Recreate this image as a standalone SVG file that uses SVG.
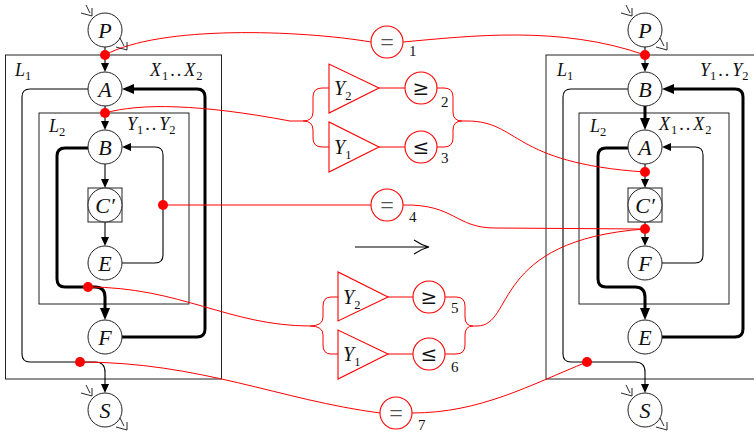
<svg xmlns="http://www.w3.org/2000/svg" xmlns:xlink="http://www.w3.org/1999/xlink" width="754" height="436" viewBox="0 0 754 436">
<style>
.box{fill:none;stroke:#222;stroke-width:1}
.nd{fill:#fff;stroke:#222;stroke-width:1}
.nt{font-family:"Liberation Serif",serif;font-style:italic;font-size:22px;text-anchor:middle;fill:#111}
.lb{font-family:"Liberation Serif",serif;font-size:18px;fill:#111}
.it{font-style:italic}
.sub{font-size:12.5px;font-style:normal}
.e{fill:none;stroke:#000;stroke-width:1.1}
.et{fill:none;stroke:#000;stroke-width:3;stroke-linejoin:round}
.r{fill:none;stroke:#f00;stroke-width:1}
.rc{fill:#fff;stroke:#f00;stroke-width:1.1}
.rd{fill:#f00}
.op{font-family:"DejaVu Serif",serif;font-size:20px;text-anchor:middle;fill:#111}
.eqs{font-family:"Liberation Serif",serif;font-size:24px;text-anchor:middle;fill:#555}
.num{font-family:"Liberation Serif",serif;font-size:15px;fill:#111}
.tri{fill:#fff;stroke:#f00;stroke-width:1.1}
.tl{font-family:"Liberation Serif",serif;font-size:20px;fill:#111}
.io{fill:none;stroke:#111;stroke-width:0.9}
</style>
<defs>
<marker id="ah" markerUnits="userSpaceOnUse" markerWidth="10" markerHeight="8" refX="7" refY="4" orient="auto"><path d="M0,0 L9,4 L0,8 z" fill="#000"/></marker>
<marker id="aht" markerUnits="userSpaceOnUse" markerWidth="13" markerHeight="11" refX="6" refY="5" orient="auto"><path d="M0,0 L12,5 L0,10 z" fill="#000"/></marker>
<path id="iosym" class="io" d="M-19,-25 L-15,-17 M-24,-17 L-13,-14 L-13,-22 M15,8 L19,16 M11,17 L22,20 L22,12"/>
</defs>

<!-- Left diagram boxes -->
<g id="L1left">
<rect class="box" x="5.5" y="55" width="216" height="324"/>
<text class="lb" x="15" y="76"><tspan class="it">L</tspan><tspan class="sub" dy="4">1</tspan></text>
<text class="lb" x="150" y="76"><tspan class="it">X</tspan><tspan class="sub" dx="1" dy="4">1</tspan><tspan dx="2" dy="-4" letter-spacing="2">..</tspan><tspan class="it" dx="1">X</tspan><tspan class="sub" dx="1" dy="4">2</tspan></text>
</g>
<g id="L2left">
<rect class="box" x="39" y="113" width="150" height="191"/>
<text class="lb" x="49" y="132"><tspan class="it">L</tspan><tspan class="sub" dy="4">2</tspan></text>
<text class="lb" x="127" y="130"><tspan class="it">Y</tspan><tspan class="sub" dx="0" dy="4">1</tspan><tspan dx="2" dy="-4" letter-spacing="2">..</tspan><tspan class="it" dx="1">Y</tspan><tspan class="sub" dy="4">2</tspan></text>
</g>

<!-- Right diagram boxes -->
<g id="L1right">
<rect class="box" x="546" y="55" width="216" height="324"/>
<text class="lb" x="557" y="76"><tspan class="it">L</tspan><tspan class="sub" dy="4">1</tspan></text>
<text class="lb" x="700" y="76"><tspan class="it">Y</tspan><tspan class="sub" dy="4">1</tspan><tspan dx="2" dy="-4" letter-spacing="2">..</tspan><tspan class="it" dx="1">Y</tspan><tspan class="sub" dy="4">2</tspan></text>
</g>
<g id="L2right">
<rect class="box" x="579" y="113" width="150" height="191"/>
<text class="lb" x="590" y="132"><tspan class="it">L</tspan><tspan class="sub" dy="4">2</tspan></text>
<text class="lb" x="659" y="130"><tspan class="it">X</tspan><tspan class="sub" dx="1" dy="4">1</tspan><tspan dx="2" dy="-4" letter-spacing="2">..</tspan><tspan class="it" dx="1">X</tspan><tspan class="sub" dx="1" dy="4">2</tspan></text>
</g>

<!-- Connectors -->
<g id="connectors">
<path class="e" d="M105,47 L105,70" marker-end="url(#ah)"/>
<path class="e" d="M105,106 L105,128" marker-end="url(#ah)"/>
<path class="e" d="M105,164 L105,186" marker-end="url(#ah)"/>
<path class="e" d="M105,222 L105,244" marker-end="url(#ah)"/>
<path class="e" d="M122,263 L155,263 Q163,263 163,255 L163,155 Q163,147 155,147 L124,147" marker-end="url(#ah)"/>
<path class="et" d="M88,148 L65,148 Q57,148 57,156 L57,279 Q57,287 65,287 L95,287 Q105,287 105,297 L105,314" marker-end="url(#aht)"/>
<path class="et" d="M122,337 L197,337 Q205,337 205,329 L205,97 Q205,89 197,89 L128,89" marker-end="url(#aht)"/>
<path class="e" d="M88,89 L30,89 Q22,89 22,97 L22,354 Q22,362 30,362 L95,362 Q105,362 105,372 L105,391" marker-end="url(#ah)"/>
<path class="e" d="M645,47 L645,70" marker-end="url(#ah)"/>
<path class="et" d="M645,106 L645,124" marker-end="url(#aht)"/>
<path class="e" d="M645,164 L645,186" marker-end="url(#ah)"/>
<path class="e" d="M645,222 L645,244" marker-end="url(#ah)"/>
<path class="e" d="M662,263 L695,263 Q703,263 703,255 L703,155 Q703,147 695,147 L664,147" marker-end="url(#ah)"/>
<path class="et" d="M628,148 L606,148 Q598,148 598,156 L598,279 Q598,287 606,287 L635,287 Q645,287 645,297 L645,314" marker-end="url(#aht)"/>
<path class="et" d="M662,337 L735,337 Q743,337 743,329 L743,97 Q743,89 735,89 L668,89" marker-end="url(#aht)"/>
<path class="e" d="M628,89 L571,89 Q563,89 563,97 L563,354 Q563,362 571,362 L635,362 Q645,362 645,372 L645,391" marker-end="url(#ah)"/>
<path class="e" d="M355,247 L429,247 M414,240 Q421,245 429,247 Q421,249 414,254"/>
<path class="r" d="M105,55 C160,25 300,30 371,42"/>
<path class="r" d="M403,42 C470,36 560,25 645,55"/>
<path class="r" d="M105,113 C140,103 200,104 290,121 L303,121"/>
<path class="r" d="M303,121 Q313,121 313,112 L313,97 Q313,88 322,88 L329,88"/>
<path class="r" d="M303,121 Q313,121 313,130 L313,138 Q313,147 322,147 L329,147"/>
<path class="r" d="M379,88 L405,88 M379,147 L405,147"/>
<path class="r" d="M436,88 L444,88 Q453,88 453,97 L453,112 Q453,121 462,121 L467,121"/>
<path class="r" d="M436,147 L444,147 Q453,147 453,138 L453,130 Q453,121 462,121"/>
<path class="r" d="M467,121 C520,121 510,163 645,172"/>
<path class="r" d="M163,205 L371,205"/>
<path class="r" d="M403,205 C455,204 455,228 495,228 L645,229"/>
<path class="r" d="M88,287 C180,287 230,326 310,326"/>
<path class="r" d="M310,326 Q323,326 323,317 L323,306 Q323,297 331,297 L338,297"/>
<path class="r" d="M310,326 Q323,326 323,335 L323,345 Q323,354 331,354 L338,354"/>
<path class="r" d="M388,297 L413,297 M388,354 L413,354"/>
<path class="r" d="M445,297 L456,297 Q465,297 465,306 L465,317 Q465,326 473,326 L477,326"/>
<path class="r" d="M445,354 L456,354 Q465,354 465,345 L465,335 Q465,326 473,326"/>
<path class="r" d="M477,326 C515,326 490,240 645,229"/>
<path class="r" d="M80,362 C200,362 280,400 380,413"/>
<path class="r" d="M412,413 C480,413 530,385 587,362"/>
</g>

<!-- Left nodes -->
<g id="P1"><circle class="nd" cx="105" cy="30" r="17"/><text class="nt" x="105" y="37.5">P</text><use xlink:href="#iosym" href="#iosym" transform="translate(105,30)"/></g>
<g id="A1"><circle class="nd" cx="105" cy="89" r="17"/><text class="nt" x="105" y="96.5">A</text></g>
<g id="B1"><circle class="nd" cx="105" cy="147" r="17"/><text class="nt" x="105" y="154.5">B</text></g>
<g id="C1"><rect class="nd" x="88" y="188" width="34" height="34"/><circle class="nd" cx="105" cy="205" r="17"/><text class="nt" x="105" y="212.5">C′</text></g>
<g id="E1"><circle class="nd" cx="105" cy="263" r="17"/><text class="nt" x="105" y="270.5">E</text></g>
<g id="F1"><circle class="nd" cx="105" cy="337" r="17"/><text class="nt" x="105" y="344.5">F</text></g>
<g id="S1"><circle class="nd" cx="105" cy="410" r="17"/><text class="nt" x="105" y="417.5">S</text><use xlink:href="#iosym" href="#iosym" transform="translate(105,410)"/></g>

<!-- Right nodes -->
<g id="P2"><circle class="nd" cx="645" cy="30" r="17"/><text class="nt" x="645" y="37.5">P</text><use xlink:href="#iosym" href="#iosym" transform="translate(645,30)"/></g>
<g id="B2"><circle class="nd" cx="645" cy="89" r="17"/><text class="nt" x="645" y="96.5">B</text></g>
<g id="A2"><circle class="nd" cx="645" cy="147" r="17"/><text class="nt" x="645" y="154.5">A</text></g>
<g id="C2"><rect class="nd" x="628" y="188" width="34" height="34"/><circle class="nd" cx="645" cy="205" r="17"/><text class="nt" x="645" y="212.5">C′</text></g>
<g id="F2"><circle class="nd" cx="645" cy="263" r="17"/><text class="nt" x="645" y="270.5">F</text></g>
<g id="E2"><circle class="nd" cx="645" cy="337" r="17"/><text class="nt" x="645" y="344.5">E</text></g>
<g id="S2"><circle class="nd" cx="645" cy="410" r="17"/><text class="nt" x="645" y="417.5">S</text><use xlink:href="#iosym" href="#iosym" transform="translate(645,410)"/></g>

<!-- Red dots -->
<g id="dots">
<circle class="rd" cx="105" cy="55" r="5"/>
<circle class="rd" cx="105" cy="113" r="5"/>
<circle class="rd" cx="163" cy="205" r="5"/>
<circle class="rd" cx="88" cy="287" r="5"/>
<circle class="rd" cx="80" cy="362" r="5"/>
<circle class="rd" cx="645" cy="55" r="5"/>
<circle class="rd" cx="645" cy="172" r="5"/>
<circle class="rd" cx="645" cy="229" r="5"/>
<circle class="rd" cx="587" cy="362" r="5"/>
</g>

<!-- Triangles -->
<g id="tY2a"><polygon class="tri" points="329,64 329,113 379,88"/><text class="tl" x="334" y="95"><tspan class="it">Y</tspan><tspan class="sub" dy="5" font-size="14">2</tspan></text></g>
<g id="tY1a"><polygon class="tri" points="329,122 329,172 379,147"/><text class="tl" x="334" y="154"><tspan class="it">Y</tspan><tspan class="sub" dy="5" font-size="14">1</tspan></text></g>
<g id="tY2b"><polygon class="tri" points="338,272 338,321 388,297"/><text class="tl" x="343" y="304"><tspan class="it">Y</tspan><tspan class="sub" dy="5" font-size="14">2</tspan></text></g>
<g id="tY1b"><polygon class="tri" points="338,330 338,379 388,354"/><text class="tl" x="343" y="361"><tspan class="it">Y</tspan><tspan class="sub" dy="5" font-size="14">1</tspan></text></g>

<!-- Operator nodes -->
<g id="eq1"><circle class="rc" cx="387" cy="42" r="16"/><text class="eqs" x="387" y="50">=</text><text class="num" x="409" y="56">1</text></g>
<g id="ge2"><circle class="rc" cx="421" cy="88" r="16"/><text class="op" x="421" y="95">≥</text><text class="num" x="441" y="107">2</text></g>
<g id="le3"><circle class="rc" cx="421" cy="147" r="16"/><text class="op" x="421" y="154">≤</text><text class="num" x="441" y="163">3</text></g>
<g id="eq4"><circle class="rc" cx="387" cy="205" r="16"/><text class="eqs" x="387" y="213">=</text><text class="num" x="409" y="222">4</text></g>
<g id="ge5"><circle class="rc" cx="429" cy="297" r="16"/><text class="op" x="429" y="304">≥</text><text class="num" x="451" y="313">5</text></g>
<g id="le6"><circle class="rc" cx="429" cy="354" r="16"/><text class="op" x="429" y="361">≤</text><text class="num" x="451" y="372">6</text></g>
<g id="eq7"><circle class="rc" cx="396" cy="413" r="16"/><text class="eqs" x="396" y="421">=</text><text class="num" x="418" y="430">7</text></g>
</svg>
